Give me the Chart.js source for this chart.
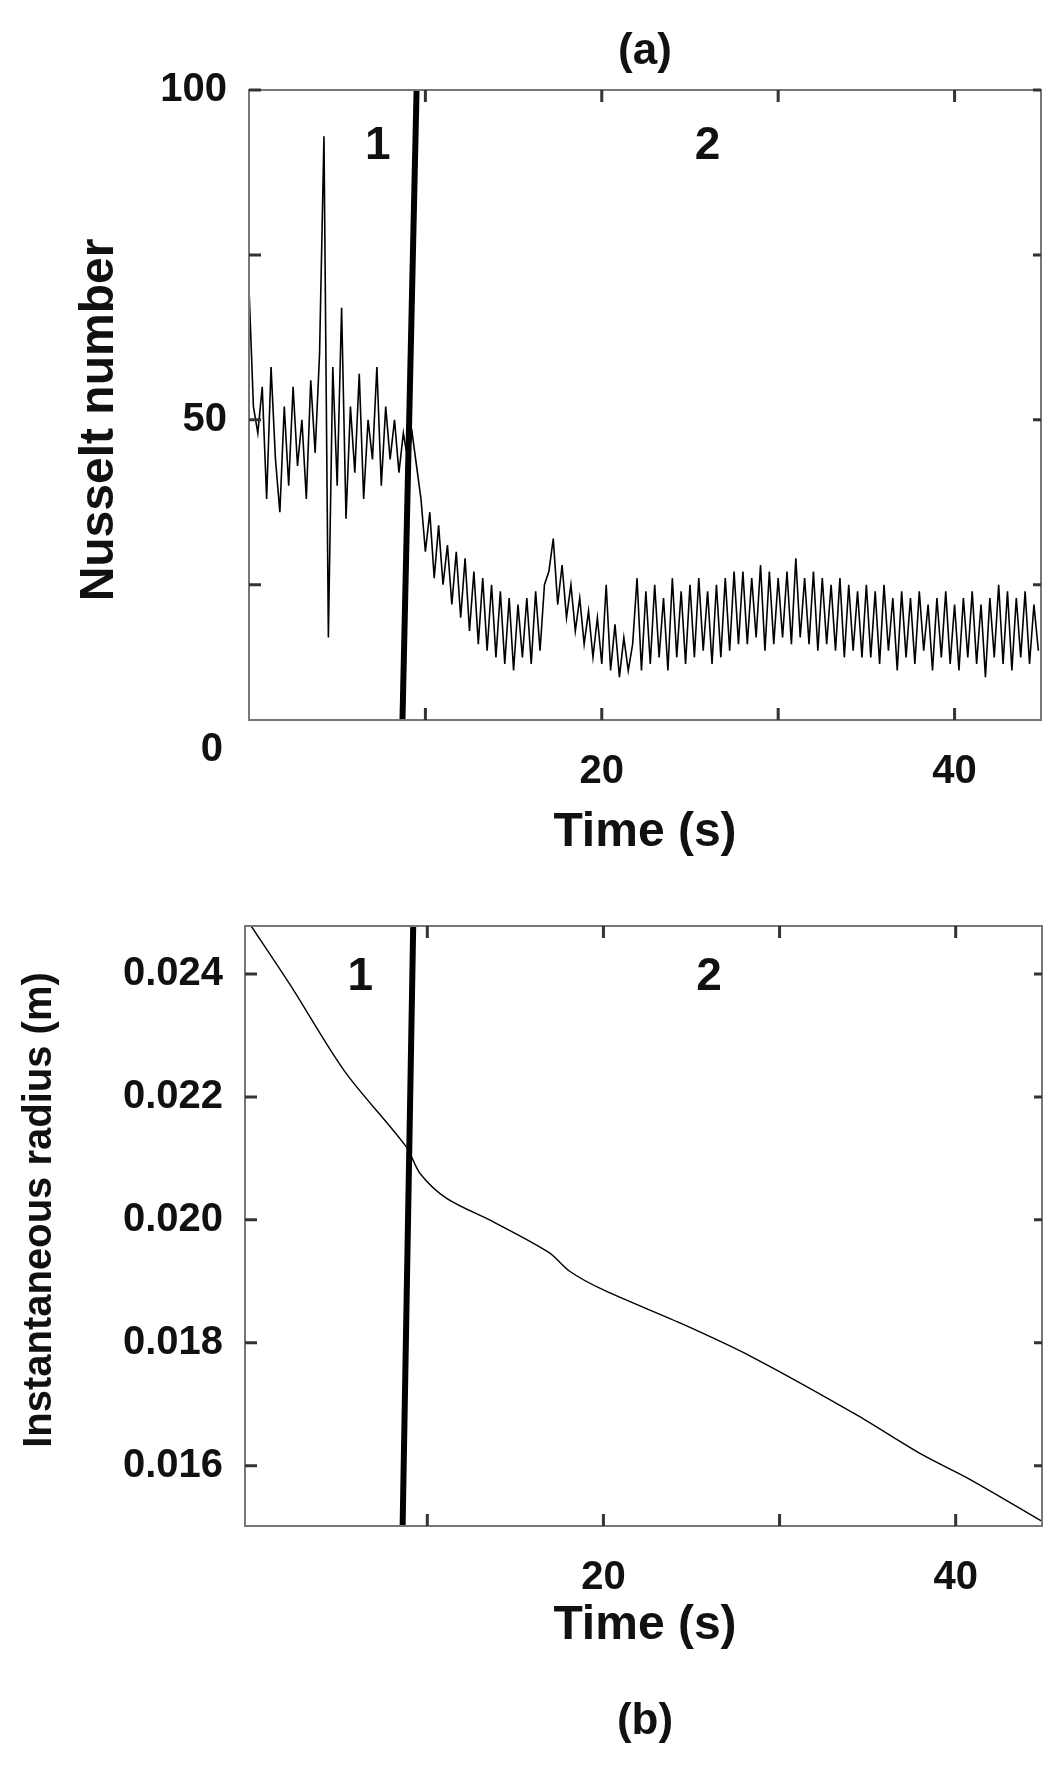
<!DOCTYPE html>
<html>
<head>
<meta charset="utf-8">
<script src="https://cdn.jsdelivr.net/npm/chart.js@4/dist/chart.umd.min.js"></script>
<style>
  body { margin: 0; background: #fff; }
  canvas { display: block; }
</style>
</head>
<body>
<canvas id="top" width="1058" height="880"></canvas>
<canvas id="bottom" width="1058" height="887"></canvas>
<script>
// Nusselt number, sampled every 0.25 s
const nuStep = 0.25;
const nusselt = [
  70, 52, 48, 55, 38, 58, 44, 36, 52, 40, 55, 43, 50, 38, 56, 45, 60, 93, 17, 58,
  40, 67, 35, 52, 42, 57, 38, 50, 44, 58, 40, 52, 44, 50, 42, 48, 44, 48, 43,
  38, 30, 36, 26, 34, 25, 31, 22, 30, 20, 29, 18, 27, 16, 26, 15, 25,
  14, 24, 13, 23, 12, 22, 14, 23, 13, 24, 15, 25,
  27, 32, 22, 28, 20, 25,
  18, 23, 16, 21, 14, 20, 13, 25, 12, 19,
  11, 17, 12, 16,
  26, 12, 24, 13, 25, 14, 23, 12, 26, 14, 24, 13, 25, 14, 26, 15, 24, 13, 25, 14, 26, 15, 27, 16,
  27, 16, 26, 17, 28, 15, 27, 16, 26, 17, 27, 16, 29, 17, 26, 16, 27, 15, 26, 16, 25, 15, 26, 14, 25, 15, 24, 14,
  25, 14, 24, 13, 25, 15, 23, 12, 24, 14, 23, 13, 24, 15, 22, 12, 23, 14, 24, 13,
  22, 12, 23, 14, 24, 13, 22, 11, 23, 14, 25, 13, 24, 12, 23, 14, 24, 13, 22, 15
];
const nuTime = nusselt.map((v, i) => i * nuStep);

// instantaneous radius
const radiusTime = [0, 2.2, 5.3, 8.8, 9.6, 11.1, 13.8, 16.9, 18.1, 20, 24.6, 28.5, 34.3, 38.1, 40.8, 45.3];
const radius = [0.02478, 0.02383, 0.02242, 0.02119, 0.02075, 0.02035, 0.01996, 0.01947, 0.01916, 0.01886,
  0.01829, 0.01776, 0.01684, 0.01618, 0.01578, 0.01503];

// boundary between region 1 and 2 (time at top, time at bottom)
const splitTop = [9.5, 8.7];
const splitBottom = [9.2, 8.6];

const xTicks = [20, 40];
const xMinor = [10, 20, 30, 40];
const nuTicks = [50, 100];
const nuMinor = [25, 50, 75, 100];
const rTicks = [0.016, 0.018, 0.020, 0.022, 0.024];

const FONT = '"Liberation Sans", Arial, sans-serif';

// frame, inward ticks and free text
function framePlugin(opts) {
  return {
    id: 'frame',
    afterDraw(chart) {
      const c = chart.ctx, a = chart.chartArea;
      const xs = chart.scales.x, ys = chart.scales.y;
      c.save();
      c.strokeStyle = '#777';
      c.lineWidth = 2;
      c.strokeRect(a.left, a.top, a.right - a.left, a.bottom - a.top);
      c.strokeStyle = '#333';
      c.lineWidth = 3;
      opts.xMinor.forEach(v => {
        const p = xs.getPixelForValue(v);
        c.beginPath(); c.moveTo(p, a.bottom); c.lineTo(p, a.bottom - 12);
        c.moveTo(p, a.top); c.lineTo(p, a.top + 12); c.stroke();
      });
      opts.yMinor.forEach(v => {
        const p = ys.getPixelForValue(v);
        c.beginPath(); c.moveTo(a.left, p); c.lineTo(a.left + 12, p);
        c.moveTo(a.right, p); c.lineTo(a.right - 8, p); c.stroke();
      });
      c.fillStyle = '#111';
      c.font = 'bold 46px ' + FONT;
      c.textAlign = 'center'; c.textBaseline = 'middle';
      opts.regions.forEach(r => c.fillText(r.text, xs.getPixelForValue(r.x), ys.getPixelForValue(r.y)));
      opts.texts.forEach(t => {
        c.save();
        c.font = t.font;
        c.translate(t.x, t.y);
        if (t.rot) c.rotate(t.rot);
        c.fillText(t.text, 0, 0);
        c.restore();
      });
      if (opts.extraZero) {
        c.font = 'bold 40px ' + FONT;
        c.textAlign = 'right';
        c.fillText('0', a.left - 26, ys.getPixelForValue(0));
      }
      c.restore();
    }
  };
}

function makeChart(id, cfg) {
  return new Chart(document.getElementById(id), {
    type: 'scatter',
    data: { datasets: cfg.datasets },
    options: {
      responsive: false,
      animation: false,
      layout: { padding: cfg.padding },
      plugins: { legend: { display: false }, tooltip: { enabled: false } },
      elements: { point: { radius: 0 } },
      scales: {
        x: {
          type: 'linear', min: cfg.xMin, max: cfg.xMax,
          afterBuildTicks: s => { s.ticks = xTicks.map(v => ({ value: v })); },
          afterFit: s => { s.height = cfg.xHeight; },
          grid: { display: false, drawTicks: false },
          border: { display: false },
          ticks: { padding: 28, color: '#111', font: { family: FONT, size: 40, weight: 'bold' } }
        },
        y: {
          type: 'linear', min: cfg.yMin, max: cfg.yMax,
          afterBuildTicks: s => { s.ticks = cfg.yTicks.map(v => ({ value: v })); },
          afterFit: s => { s.width = cfg.yWidth; },
          grid: { display: false, drawTicks: false },
          border: { display: false },
          ticks: {
            padding: 22, color: '#111',
            font: { family: FONT, size: 40, weight: 'bold' },
            callback: cfg.yFormat
          }
        }
      }
    },
    plugins: [framePlugin(cfg.frame)]
  });
}

makeChart('top', {
  padding: { top: 90, right: 17, bottom: 0, left: 0 },
  xMin: 0, xMax: 44.9, yMin: 4.5, yMax: 100,
  xHeight: 160, yWidth: 249,
  yTicks: nuTicks,
  yFormat: v => String(v),
  datasets: [
    { data: nuTime.map((t, i) => ({ x: t, y: nusselt[i] })), showLine: true, borderColor: '#000', borderWidth: 1.6, tension: 0 },
    { data: [{ x: splitTop[0], y: 100 }, { x: splitTop[1], y: 4.5 }], showLine: true, borderColor: '#000', borderWidth: 6 }
  ],
  frame: {
    xMinor: xMinor, yMinor: nuMinor, extraZero: true,
    regions: [{ text: '1', x: 7.3, y: 91.5 }, { text: '2', x: 26.0, y: 91.5 }],
    texts: [
      { text: '(a)', x: 645, y: 52, font: 'bold 44px ' + FONT },
      { text: 'Time (s)', x: 645, y: 833, font: 'bold 48px ' + FONT },
      { text: 'Nusselt number', x: 100, y: 420, rot: -Math.PI / 2, font: 'bold 48px ' + FONT }
    ]
  }
});

makeChart('bottom', {
  padding: { top: 6, right: 16, bottom: 0, left: 0 },
  xMin: -0.35, xMax: 44.9, yMin: 0.01502, yMax: 0.02478,
  xHeight: 241, yWidth: 245,
  yTicks: rTicks,
  yFormat: v => v.toFixed(3),
  datasets: [
    { data: radiusTime.map((t, i) => ({ x: t, y: radius[i] })), showLine: true, borderColor: '#000', borderWidth: 1.4, tension: 0.3 },
    { data: [{ x: splitBottom[0], y: 0.02478 }, { x: splitBottom[1], y: 0.01502 }], showLine: true, borderColor: '#000', borderWidth: 6 }
  ],
  frame: {
    xMinor: xMinor, yMinor: rTicks, extraZero: false,
    regions: [{ text: '1', x: 6.2, y: 0.02394 }, { text: '2', x: 26.0, y: 0.02394 }],
    texts: [
      { text: 'Time (s)', x: 645, y: 746, font: 'bold 48px ' + FONT },
      { text: '(b)', x: 645, y: 842, font: 'bold 44px ' + FONT },
      { text: 'Instantaneous radius (m)', x: 40, y: 330, rot: -Math.PI / 2, font: 'bold 40px ' + FONT }
    ]
  }
});
</script>
</body>
</html>
